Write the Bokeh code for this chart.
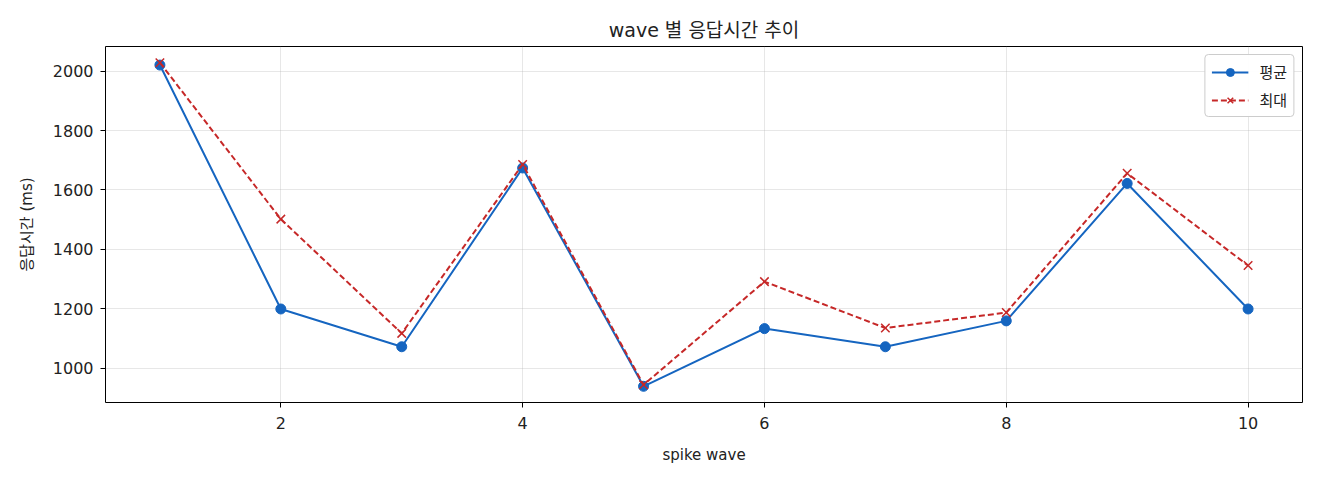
from bokeh.plotting import figure
from bokeh.models import FixedTicker, Range1d, Legend
from bokeh.embed import file_html
from bokeh.resources import INLINE

FONT = "'DejaVu Sans', 'Noto Sans CJK KR'"

# 데이터
waves = [1, 2, 3, 4, 5, 6, 7, 8, 9, 10]
avg_ms = [2020, 1200, 1073, 1674, 940, 1134, 1073, 1160, 1622, 1200]
max_ms = [2028, 1502, 1118, 1686, 945, 1292, 1136, 1188, 1656, 1346]
x_ticks = [2, 4, 6, 8, 10]
y_ticks = [1000, 1200, 1400, 1600, 1800, 2000]

p = figure(width=1304, height=467, output_backend="svg", toolbar_location=None,
           x_range=Range1d(0.55, 10.45), y_range=Range1d(885.6, 2082.4),
           min_border_left=105, min_border_top=46, min_border_right=2, min_border_bottom=65)

p.title.text = "wave 별 응답시간 추이"
p.title.align = "center"
p.title.text_font = FONT
p.title.text_font_size = "19px"
p.title.text_font_style = "normal"
p.title.text_color = "#222222"
p.title.offset = 0
p.title.standoff = 12

p.outline_line_color = "black"
p.outline_line_alpha = 1
p.outline_line_width = 1

p.xaxis.axis_label = "spike wave"
p.yaxis.axis_label = "응답시간 (ms)"
p.xaxis.ticker = FixedTicker(ticks=x_ticks)
p.yaxis.ticker = FixedTicker(ticks=y_ticks)
for ax in (p.xaxis, p.yaxis):
    ax.axis_label_text_font = FONT
    ax.axis_label_text_font_size = "15px"
    ax.axis_label_text_font_style = "normal"
    ax.axis_label_text_color = "#222222"
    ax.major_label_text_font = FONT
    ax.major_label_text_font_size = "16px"
    ax.major_label_text_color = "#222222"
    ax.axis_line_color = None
    ax.major_tick_out = 5
    ax.major_tick_in = 0
    ax.minor_tick_line_color = None
    ax.major_tick_line_color = "black"
p.xaxis.major_label_standoff = 9
p.xaxis.axis_label_standoff = 14
p.yaxis.major_label_standoff = 7
p.yaxis.axis_label_standoff = 14

p.xgrid.ticker = FixedTicker(ticks=x_ticks)
p.ygrid.ticker = FixedTicker(ticks=y_ticks)
p.grid.grid_line_color = "#b0b0b0"
p.grid.grid_line_alpha = 0.3

blue = "#1565C0"
red = "#C62828"

l1 = p.line(waves, avg_ms, line_color=blue, line_width=2)
s1 = p.scatter(waves, avg_ms, marker="circle", size=10, color=blue)
l2 = p.line(waves, max_ms, line_color=red, line_width=2, line_dash="6 3")
s2 = p.scatter(waves, max_ms, marker="x", size=12, line_color=red, line_width=1.5)

legend = Legend(items=[("평균", [l1, s1]), ("최대", [l2, s2])], location="top_right")
legend.label_text_font = FONT
legend.label_text_font_size = "15px"
legend.label_text_color = "#222222"
legend.border_line_color = "#cccccc"
legend.border_line_alpha = 1
legend.border_radius = 4
legend.glyph_width = 37
legend.label_standoff = 11
legend.spacing = 7
legend.margin = 8
legend.padding = 6
p.add_layout(legend)

open("out.html", "w").write(file_html(p, INLINE))
